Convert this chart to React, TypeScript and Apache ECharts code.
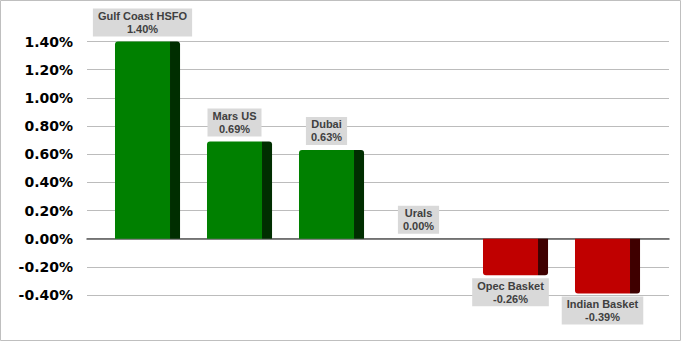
import React, { useEffect, useRef } from "react";
import * as echarts from "echarts";

const categories = ["Gulf Coast HSFO", "Mars US", "Dubai", "Urals", "Opec Basket", "Indian Basket"];
const values = [1.4, 0.69, 0.63, 0.0, -0.26, -0.39];
const yMin = -0.4;
const yMax = 1.4;
const yStep = 0.2;

export default function App() {
  const ref = useRef<HTMLDivElement>(null);
  useEffect(() => {
    document.body.style.margin = "0";
    const chart = echarts.init(ref.current!, null, { renderer: "svg" });
    const data = values.map((v, i) => [i, v]);
    chart.setOption({
      animation: false,
      backgroundColor: "#ffffff",
      grid: { left: 87, right: 12, top: 41.5, bottom: 46, containLabel: false },
      xAxis: {
        type: "value",
        min: -0.6033,
        max: 5.7228,
        axisLabel: { show: false },
        axisTick: { show: false },
        splitLine: { show: false },
        axisLine: { show: true, onZero: true, lineStyle: { color: "#595959", width: 1.5 } },
      },
      yAxis: {
        type: "value",
        min: yMin,
        max: yMax,
        interval: yStep,
        axisLine: { show: false },
        axisTick: { show: false },
        axisLabel: {
          margin: 14,
          color: "#000000",
          fontFamily: "DejaVu Sans",
          fontWeight: "bold",
          fontSize: 14,
          formatter: (v: number) => v.toFixed(2) + "%",
        },
        splitLine: { lineStyle: { color: "#bcbcbc", width: 1 } },
      },
      graphic: [
        {
          type: "rect",
          shape: { x: 0.5, y: 0.5, width: 680, height: 340 },
          style: { fill: "none", stroke: "#bfbfbf", lineWidth: 1 },
          z: 100,
        },
      ],
      series: [
        {
          type: "custom",
          data,
          renderItem: (params: any, api: any) => {
            const i = api.value(0);
            const v = api.value(1);
            const top = api.coord([i, v]);
            const base = api.coord([i, 0]);
            const unit = api.size([1, 0])[0];
            const fw = unit * 0.598;
            const sw = unit * 0.109;
            const c = top[0];
            const pos = v >= 0;
            const front = pos ? "#008000" : "#c00000";
            const side = pos ? "#002e00" : "#3f0000";
            const y0 = Math.min(top[1], base[1]);
            const h = Math.abs(top[1] - base[1]);
            const children: any[] = [];
            if (h > 0.5) {
              children.push({
                type: "rect",
                shape: { x: c - fw / 2, y: y0, width: fw, height: h, r: pos ? [3, 0, 0, 0] : [0, 0, 0, 3] },
                style: { fill: front },
              });
              children.push({
                type: "rect",
                shape: { x: c + fw / 2, y: y0, width: sw, height: h, r: pos ? [0, 3, 0, 0] : [0, 0, 3, 0] },
                style: { fill: side },
              });
            }
            children.push({
              type: "text",
              x: c,
              y: v >= 0 ? top[1] - 5 : top[1] + 3,
              z2: 10,
              style: {
                text: categories[params.dataIndex] + "\n" + v.toFixed(2) + "%",
                align: "center",
                verticalAlign: v >= 0 ? "bottom" : "top",
                fontFamily: "Liberation Sans",
                fontWeight: "bold",
                fontSize: 11,
                lineHeight: 13,
                fill: "#404040",
                backgroundColor: "#d9d9d9",
                padding: [1, 5, 1, 5],
              },
            });
            return { type: "group", children };
          },
        },
      ],
    });
    return () => chart.dispose();
  }, []);
  return <div ref={ref} style={{ width: 681, height: 341 }} />;
}
